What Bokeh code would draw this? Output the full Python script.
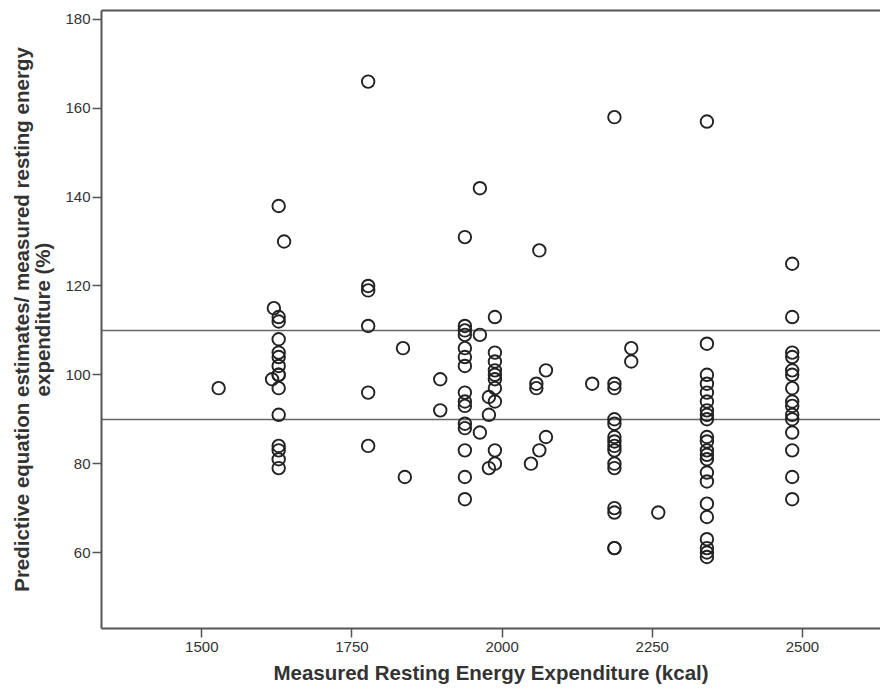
from bokeh.plotting import figure
from bokeh.models import LinearAxis, FixedTicker, Range1d
from bokeh.embed import file_html
from bokeh.resources import INLINE

# Measured REE (kcal) and predictive estimate / measured REE (%)
ree_kcal = [
    1528,
    1628, 1637, 1620, 1628, 1628, 1628, 1628, 1628, 1628, 1628, 1628, 1617, 1628, 1628, 1628, 1628, 1628, 1628,
    1777, 1777, 1777, 1777, 1777, 1777,
    1835, 1838,
    1897, 1897,
    1938, 1938, 1938, 1938, 1938, 1938, 1938, 1938, 1938, 1938, 1938, 1938, 1938, 1938, 1938,
    1963, 1963, 1963,
    1988, 1988, 1988, 1988, 1988, 1988, 1988, 1988, 1988, 1988,
    1978, 1978, 1978,
    2062, 2057, 2057, 2073, 2073, 2062, 2048,
    2150,
    2187, 2187, 2187, 2187, 2187, 2187, 2187, 2187, 2187, 2187, 2187, 2187, 2187, 2187, 2187,
    2215, 2215, 2260,
    2341, 2341, 2341, 2341, 2341, 2341, 2341, 2341, 2341, 2341, 2341, 2341, 2341, 2341, 2341, 2341, 2341, 2341,
    2341, 2341, 2341, 2341,
    2483, 2483, 2483, 2483, 2483, 2483, 2483, 2483, 2483, 2483, 2483, 2483, 2483, 2483, 2483,
]
ratio_pct = [
    97,
    138, 130, 115, 113, 112, 108, 105, 104, 102, 100, 100, 99, 97, 91, 84, 83, 81, 79,
    166, 120, 119, 111, 96, 84,
    106, 77,
    99, 92,
    131, 111, 110, 109, 106, 104, 102, 96, 94, 93, 89, 88, 83, 77, 72,
    142, 109, 87,
    113, 105, 103, 101, 100, 99, 97, 94, 83, 80,
    95, 91, 79,
    128, 98, 97, 101, 86, 83, 80,
    98,
    158, 98, 97, 90, 89, 86, 85, 84, 83, 80, 79, 70, 69, 61, 61,
    106, 103, 69,
    157, 107, 100, 98, 96, 94, 92, 91, 90, 86, 85, 83, 82, 81, 78, 76, 71, 68,
    63, 61, 60, 59,
    125, 113, 105, 104, 101, 100, 97, 94, 93, 91, 90, 87, 83, 77, 72,
]
reference_lines = [90, 110]
x_ticks = [1500, 1750, 2000, 2250, 2500]
y_ticks = [60, 80, 100, 120, 140, 160, 180]

FONT = "Liberation Sans"
AX = "#555555"

p = figure(width=880, height=690, output_backend="svg", toolbar_location=None,
           x_range=Range1d(1333, 2630), y_range=Range1d(42.9, 182.0),
           min_border_left=101, min_border_right=0, min_border_top=10, min_border_bottom=62)
p.outline_line_color = None
p.grid.visible = False
p.background_fill_color = "white"

p.hspan(y=reference_lines, line_color="#666666", line_width=1.6)

p.scatter(ree_kcal, ratio_pct, marker="circle", size=12.5, fill_color=None,
          line_color="#222222", line_width=1.9)

for ax, ticks in ((p.xaxis[0], x_ticks), (p.yaxis[0], y_ticks)):
    ax.ticker = FixedTicker(ticks=ticks)
    ax.axis_line_color = AX
    ax.axis_line_width = 2
    ax.major_tick_line_color = AX
    ax.major_tick_line_width = 1.5
    ax.major_tick_out = 9
    ax.major_tick_in = 0
    ax.minor_tick_line_color = None
    ax.major_label_text_font = FONT
    ax.major_label_text_font_size = "15px"
    ax.major_label_text_color = "#333333"
    ax.axis_label_text_font = FONT
    ax.axis_label_text_font_style = "bold"
    ax.axis_label_text_font_size = "20.5px"
    ax.axis_label_text_color = "#333333"

p.xaxis.axis_label = "Measured Resting Energy Expenditure (kcal)"
p.yaxis.axis_label = "Predictive equation estimates/ measured resting energy\nexpenditure (%)"
p.xaxis.major_label_standoff = 4
p.yaxis.major_label_standoff = 2
p.yaxis.axis_label_standoff = 8
p.xaxis.axis_label_standoff = 6
p.yaxis.axis_label_text_line_height = 0.95

top = LinearAxis(ticker=FixedTicker(ticks=[]), axis_line_color=AX, axis_line_width=2,
                 major_tick_line_color=None, minor_tick_line_color=None,
                 major_label_text_font_size="0px")
p.add_layout(top, "above")

open("out.html", "w").write(file_html(p, INLINE))
